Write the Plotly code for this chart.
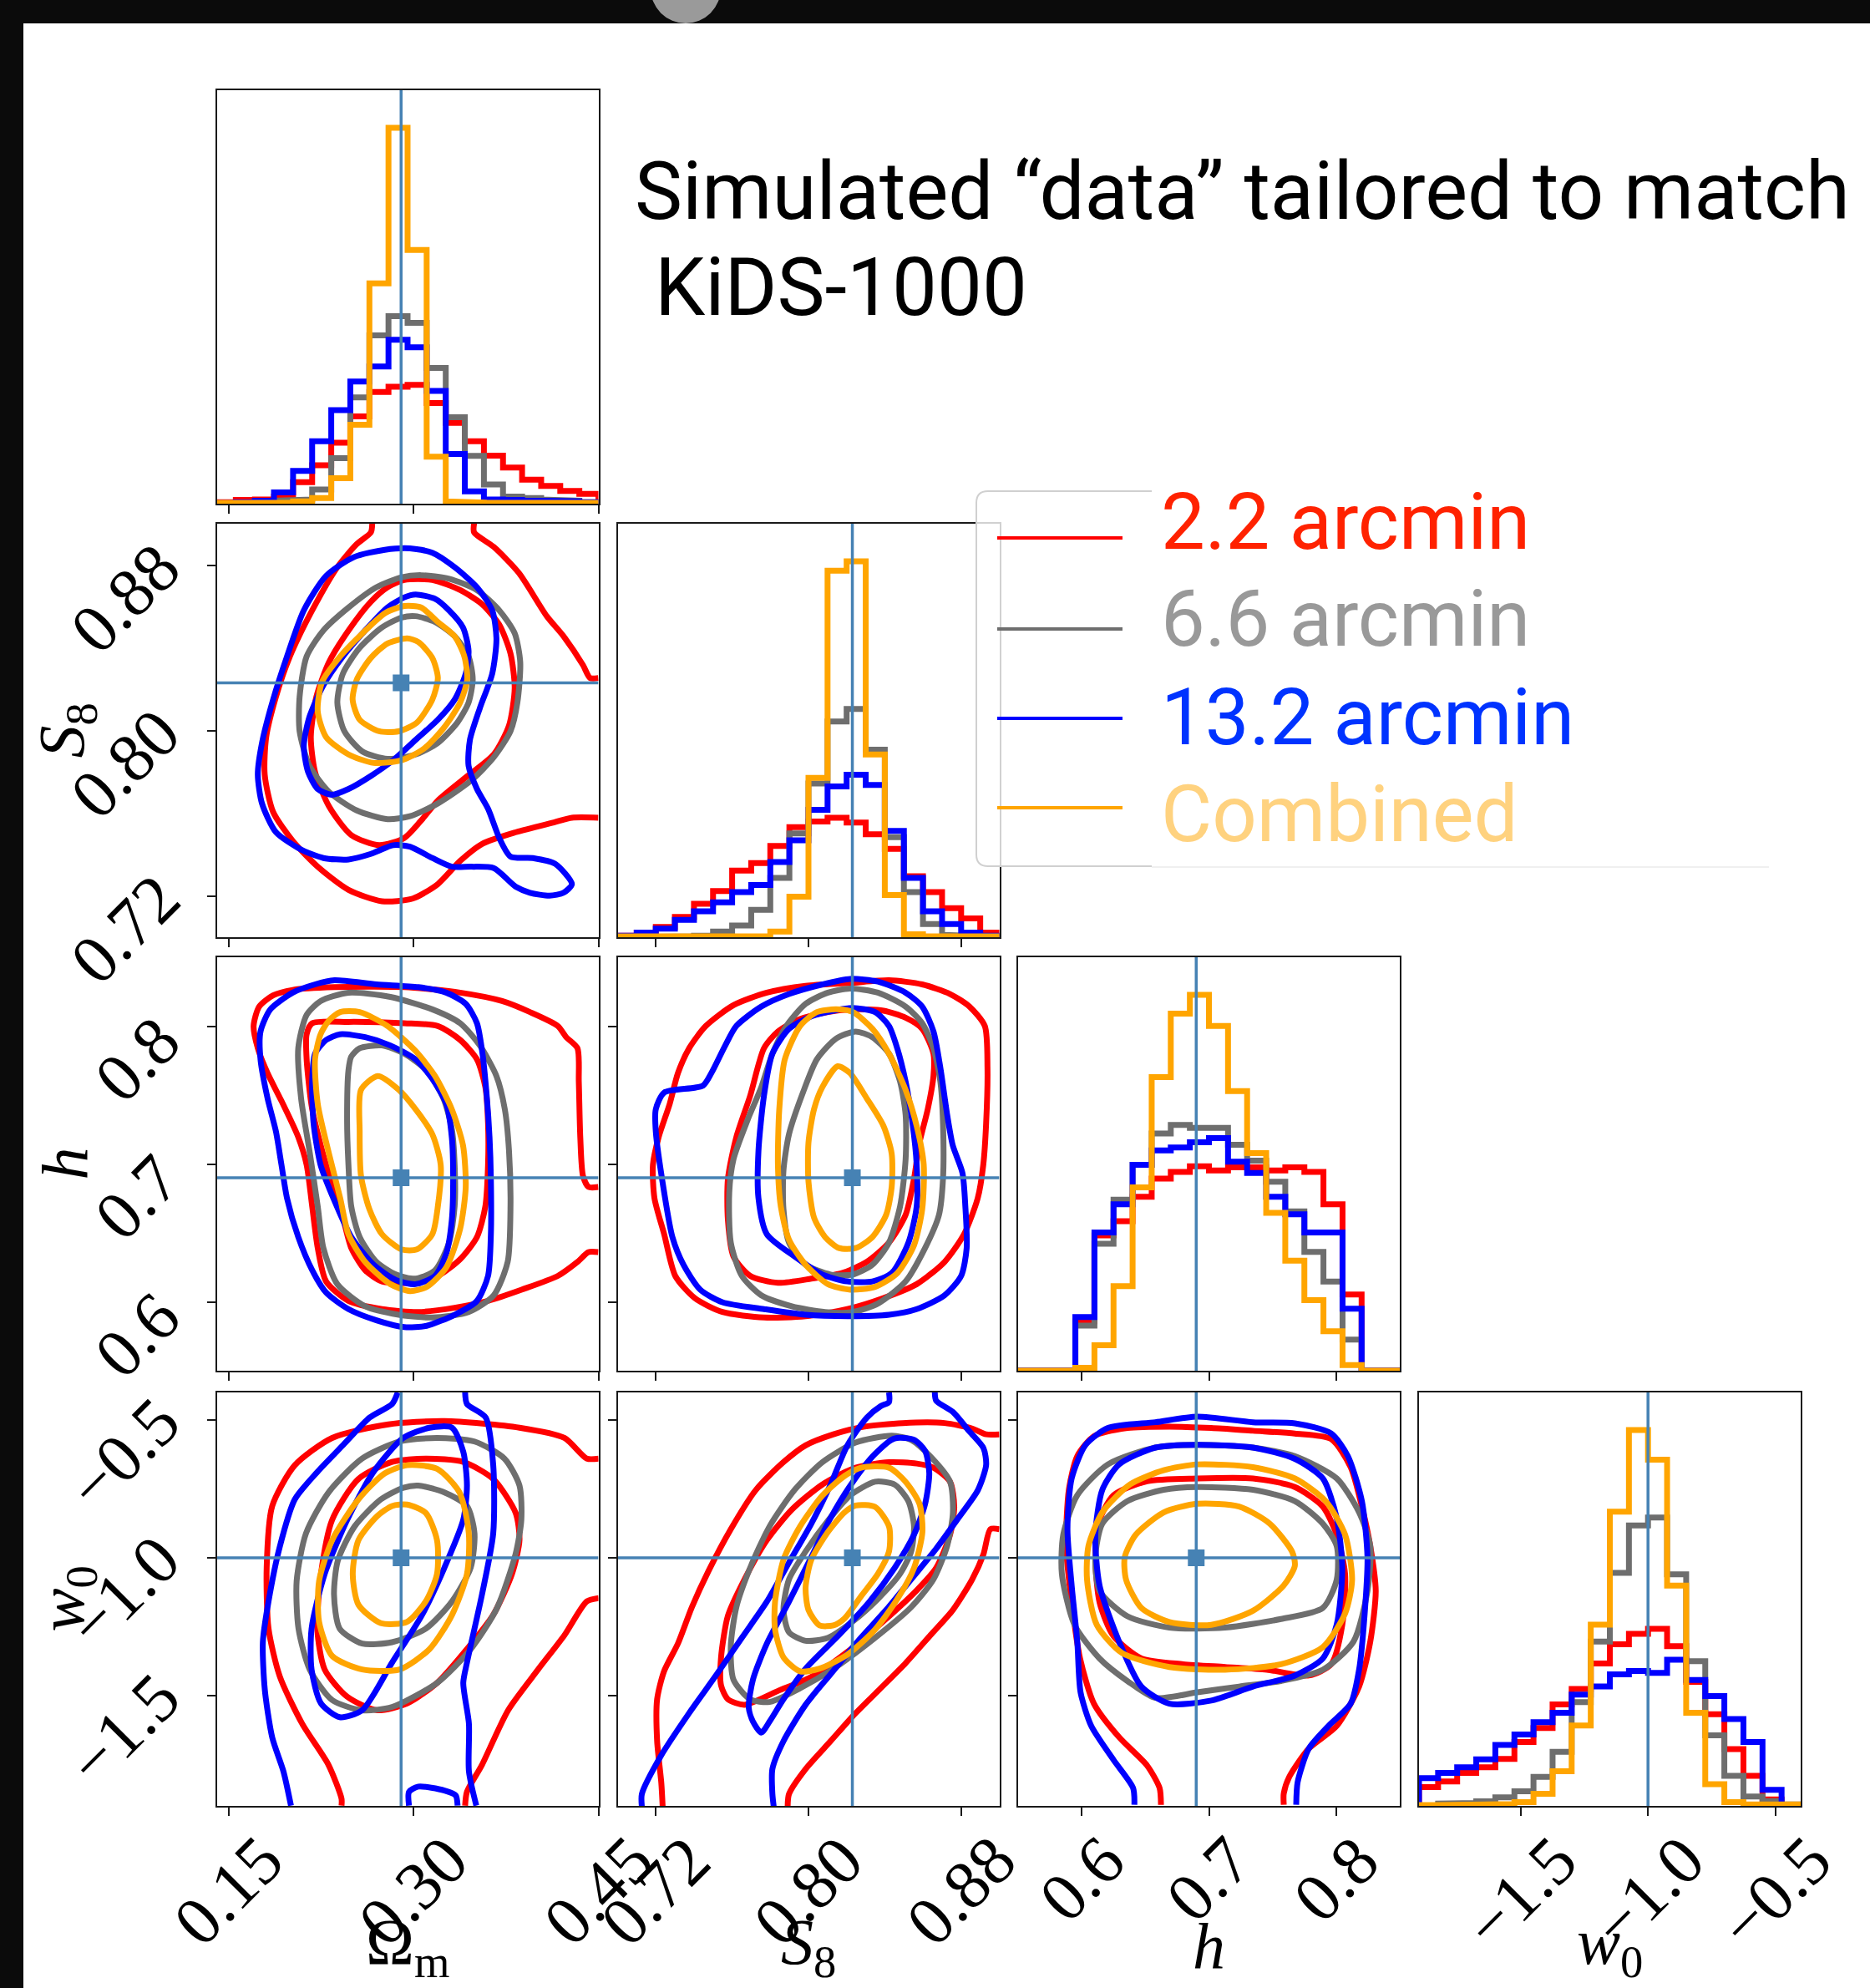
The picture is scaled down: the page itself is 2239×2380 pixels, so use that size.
import plotly.graph_objects as go

W, H = 2239, 2380

# ---------------- axes / parameters ----------------
RANGE_OM = [0.1405, 0.45]
RANGE_S8 = [0.70, 0.90]
RANGE_H = [0.55, 0.85]
RANGE_W0 = [-1.9, -0.4]
TICKS_OM = [0.15, 0.30, 0.45]
TICKS_S8 = [0.72, 0.80, 0.88]
TICKS_H = [0.6, 0.7, 0.8]
TICKS_W0 = [-1.5, -1.0, -0.5]
TICKTEXT_OM = ["0.15", "0.30", "0.45"]
TICKTEXT_S8 = ["0.72", "0.80", "0.88"]
TICKTEXT_H = ["0.6", "0.7", "0.8"]
TICKTEXT_W0 = ["\u22121.5", "\u22121.0", "\u22120.5"]
AXIS_TITLES = ["\u03a9<sub>m</sub>", "<i>S</i><sub>8</sub>", "<i>h</i>", "<i>w</i><sub>0</sub>"]
TRUTH = [0.29, 0.823, 0.69, -1.0]
SERIES = ["2.2 arcmin", "6.6 arcmin", "13.2 arcmin", "Combined"]
N_BINS = 20
TITLE_LINE1 = "Simulated \u201cdata\u201d tailored to match"
TITLE_LINE2 = "KiDS-1000"

# ---------------- 1D histograms (relative heights, 20 bins) ----------------
HIST_OM_RED = [0.004, 0.01, 0.011, 0.019, 0.057, 0.102, 0.162, 0.232, 0.297, 0.311, 0.316, 0.268, 0.215, 0.166, 0.128, 0.096, 0.064, 0.047, 0.034, 0.026]
HIST_OM_GREY = [0.0, 0.0, 0.003, 0.008, 0.011, 0.038, 0.121, 0.283, 0.448, 0.499, 0.481, 0.361, 0.23, 0.127, 0.051, 0.019, 0.015, 0.011, 0.008, 0.004]
HIST_OM_BLUE = [0.0015, 0.004, 0.008, 0.03, 0.087, 0.166, 0.249, 0.325, 0.365, 0.436, 0.416, 0.30, 0.132, 0.033, 0.011, 0.01, 0.008, 0.008, 0.006, 0.004]
HIST_OM_ORANGE = [0.002, 0.002, 0.002, 0.003, 0.006, 0.015, 0.068, 0.21, 0.586, 1.0, 0.675, 0.125, 0.006, 0.003, 0.002, 0.002, 0.002, 0.002, 0.002, 0.002]

HIST_S8_RED = [0.004, 0.012, 0.027, 0.054, 0.089, 0.123, 0.177, 0.197, 0.243, 0.293, 0.308, 0.318, 0.305, 0.274, 0.235, 0.162, 0.12, 0.077, 0.05, 0.012]
HIST_S8_GREY = [0.0, 0.0, 0.0, 0.002, 0.004, 0.015, 0.031, 0.073, 0.158, 0.276, 0.409, 0.574, 0.607, 0.499, 0.266, 0.12, 0.035, 0.006, 0.003, 0.001]
HIST_S8_BLUE = [0.004, 0.012, 0.023, 0.046, 0.069, 0.093, 0.12, 0.139, 0.2, 0.258, 0.339, 0.401, 0.432, 0.405, 0.283, 0.158, 0.069, 0.035, 0.012, 0.004]
HIST_S8_ORANGE = [0.002, 0.002, 0.002, 0.002, 0.002, 0.002, 0.002, 0.002, 0.015, 0.108, 0.424, 0.975, 1.0, 0.486, 0.112, 0.008, 0.002, 0.002, 0.002, 0.002]

HIST_H_RED = [0.0, 0.0, 0.0, 0.131, 0.36, 0.398, 0.463, 0.511, 0.529, 0.544, 0.533, 0.541, 0.541, 0.533, 0.541, 0.529, 0.443, 0.203, 0.0, 0.0]
HIST_H_GREY = [0.0, 0.0, 0.0, 0.12, 0.338, 0.455, 0.548, 0.631, 0.654, 0.646, 0.646, 0.601, 0.559, 0.503, 0.424, 0.316, 0.237, 0.083, 0.0, 0.0]
HIST_H_BLUE = [0.0, 0.0, 0.0, 0.143, 0.368, 0.443, 0.548, 0.586, 0.594, 0.608, 0.619, 0.556, 0.526, 0.463, 0.416, 0.368, 0.368, 0.165, 0.0, 0.0]
HIST_H_ORANGE = [0.0, 0.0, 0.0, 0.008, 0.068, 0.225, 0.488, 0.781, 0.95, 1.0, 0.917, 0.744, 0.579, 0.42, 0.293, 0.188, 0.105, 0.015, 0.0, 0.0]

HIST_W0_RED = [0.05, 0.065, 0.088, 0.103, 0.125, 0.17, 0.207, 0.27, 0.311, 0.379, 0.43, 0.458, 0.471, 0.425, 0.33, 0.244, 0.151, 0.08, 0.017, 0.002]
HIST_W0_GREY = [0.0, 0.006, 0.008, 0.012, 0.023, 0.039, 0.077, 0.144, 0.276, 0.4375, 0.62, 0.746, 0.767, 0.616, 0.385, 0.188, 0.08, 0.025, 0.013, 0.004]
HIST_W0_BLUE = [0.074, 0.088, 0.103, 0.124, 0.162, 0.19, 0.223, 0.248, 0.296, 0.318, 0.35, 0.359, 0.354, 0.389, 0.335, 0.292, 0.231, 0.17, 0.043, 0.002]
HIST_W0_ORANGE = [0.002, 0.002, 0.002, 0.002, 0.005, 0.01, 0.032, 0.092, 0.214, 0.482, 0.783, 1.0, 0.921, 0.586, 0.248, 0.058, 0.01, 0.004, 0.004, 0.004]

# ---------------- 2D contours (inner = _1, outer = _2), data units ----------------
# S8 vs Omega_m
OM_S8_RED_1 = [(0.2926,0.8728),(0.3153,0.8728),(0.3379,0.8679),(0.356,0.8609),(0.3696,0.8512),(0.3787,0.8372),(0.3821,0.8205),(0.3775,0.8024),(0.3651,0.7884),(0.3424,0.7773),(0.3198,0.7661),(0.3062,0.7564),(0.2926,0.748),(0.2723,0.7445),(0.2496,0.7494),(0.2315,0.7633),(0.2202,0.78),(0.2168,0.7968),(0.2213,0.8163),(0.2315,0.833),(0.2474,0.8484),(0.2655,0.8623),(0.279,0.8693)]
OM_S8_RED_2 = [(0.2666,0.9002),(0.2655,0.8958),(0.2541,0.8902),(0.2383,0.879),(0.2179,0.8581),(0.1998,0.8358),(0.1885,0.8163),(0.1806,0.7968),(0.1794,0.7787),(0.1862,0.7606),(0.2021,0.7466),(0.2224,0.7341),(0.2474,0.7229),(0.2745,0.7174),(0.2994,0.7187),(0.3198,0.7257),(0.3379,0.7369),(0.356,0.7452),(0.3832,0.7508),(0.4149,0.7557),(0.4285,0.7578),(0.45,0.7578),None,(0.3492,0.9002),(0.3492,0.8958),(0.3651,0.8888),(0.3855,0.8762),(0.4081,0.8553),(0.4217,0.8456),(0.4375,0.8316),(0.4432,0.8254),(0.45,0.8254)]
OM_S8_GREY_1 = [(0.3017,0.8553),(0.3175,0.8525),(0.3334,0.8456),(0.3447,0.8358),(0.3481,0.8247),(0.3447,0.8135),(0.3356,0.8038),(0.3198,0.794),(0.3017,0.7884),(0.279,0.7863),(0.2587,0.7898),(0.244,0.7996),(0.2383,0.8135),(0.2428,0.8275),(0.2564,0.84),(0.2745,0.8498),(0.2904,0.8546)]
OM_S8_GREY_2 = [(0.3062,0.8751),(0.3289,0.8734),(0.3515,0.8679),(0.3696,0.8581),(0.3821,0.847),(0.3866,0.833),(0.3843,0.8135),(0.3787,0.7996),(0.3651,0.787),(0.347,0.7759),(0.3198,0.7647),(0.2972,0.7585),(0.279,0.7571),(0.2541,0.7613),(0.2315,0.7703),(0.2157,0.7829),(0.2077,0.7996),(0.2077,0.8163),(0.2134,0.8358),(0.227,0.8484),(0.2474,0.8595),(0.27,0.8693),(0.2904,0.8741)]
OM_S8_BLUE_1 = [(0.3017,0.8658),(0.3175,0.8637),(0.3289,0.8581),(0.3402,0.8498),(0.3447,0.8386),(0.3424,0.8275),(0.3334,0.8149),(0.3198,0.8052),(0.3017,0.7954),(0.2836,0.7856),(0.2655,0.778),(0.2474,0.7717),(0.2338,0.7689),(0.2224,0.7717),(0.2145,0.7801),(0.2111,0.7926),(0.2157,0.8066),(0.227,0.8219),(0.2428,0.8358),(0.2609,0.8484),(0.279,0.8595),(0.2926,0.8644)]
OM_S8_BLUE_2 = [(0.2972,0.8881),(0.3153,0.886),(0.3334,0.879),(0.3515,0.8693),(0.3639,0.8581),(0.3673,0.8442),(0.3639,0.8275),(0.3538,0.8107),(0.3458,0.7954),(0.3447,0.7829),(0.3515,0.7717),(0.3606,0.762),(0.3696,0.748),(0.3787,0.739),(0.3968,0.7383),(0.4149,0.7355),(0.4285,0.7257),(0.4217,0.7215),(0.4104,0.7201),(0.3945,0.7215),(0.3832,0.7243),(0.3651,0.7334),(0.347,0.7341),(0.3311,0.7341),(0.3153,0.7383),(0.2972,0.7438),(0.2836,0.7445),(0.2655,0.7403),(0.2474,0.7376),(0.227,0.7383),(0.2089,0.7424),(0.1885,0.7508),(0.1772,0.7647),(0.1738,0.7787),(0.1772,0.794),(0.1862,0.8149),(0.1975,0.8358),(0.2111,0.8581),(0.2292,0.8748),(0.2519,0.8839),(0.2768,0.8874)]
OM_S8_ORANGE_1 = [(0.2949,0.8445),(0.304,0.8428),(0.3153,0.8351),(0.3198,0.8254),(0.3153,0.8149),(0.3028,0.8038),(0.2881,0.7996),(0.2723,0.7996),(0.2564,0.8052),(0.2507,0.8149),(0.2541,0.8247),(0.2655,0.8351),(0.279,0.8421)]
OM_S8_ORANGE_2 = [(0.2926,0.8602),(0.3062,0.8595),(0.3198,0.8525),(0.3334,0.8456),(0.3413,0.8358),(0.3436,0.8247),(0.3379,0.8135),(0.3243,0.801),(0.3085,0.7912),(0.2904,0.7856),(0.2677,0.7843),(0.2474,0.7884),(0.2292,0.7968),(0.2224,0.8093),(0.2258,0.8233),(0.2406,0.8358),(0.2587,0.847),(0.2768,0.8567)]

# h vs Omega_m
OM_H_RED_1 = [(0.2179,0.8021),(0.2473,0.8031),(0.2926,0.8021),(0.3198,0.8001),(0.3379,0.79),(0.3515,0.7759),(0.3583,0.7558),(0.3605,0.7296),(0.3605,0.6994),(0.3583,0.6692),(0.3515,0.647),(0.3379,0.6309),(0.3198,0.6188),(0.2972,0.6138),(0.2745,0.6148),(0.2609,0.6229),(0.2496,0.639),(0.2406,0.6692),(0.2292,0.6994),(0.2179,0.7397),(0.2134,0.7759),(0.2134,0.7941)]
OM_H_RED_2 = [(0.45,0.6833),(0.442,0.6833),(0.4375,0.6913),(0.4353,0.7195),(0.4341,0.7598),(0.433,0.784),(0.4239,0.792),(0.4171,0.8001),(0.3945,0.8102),(0.3719,0.8182),(0.3379,0.8243),(0.2926,0.8283),(0.236,0.8283),(0.2021,0.8263),(0.1862,0.8223),(0.1749,0.8142),(0.1704,0.8001),(0.1738,0.784),(0.1817,0.7659),(0.193,0.7457),(0.2066,0.7195),(0.2134,0.6994),(0.2179,0.6692),(0.2224,0.639),(0.2292,0.6148),(0.2473,0.6007),(0.2745,0.5947),(0.3039,0.5926),(0.3334,0.5957),(0.3605,0.6007),(0.3877,0.6088),(0.4171,0.6188),(0.433,0.6289),(0.442,0.636),(0.45,0.636)]
OM_H_GREY_1 = [(0.2564,0.784),(0.2745,0.786),(0.2926,0.78),(0.3107,0.7679),(0.3243,0.7477),(0.3311,0.7256),(0.3334,0.6994),(0.3334,0.6692),(0.3289,0.643),(0.3175,0.6229),(0.3017,0.6168),(0.2858,0.6198),(0.27,0.6289),(0.2564,0.647),(0.2496,0.6692),(0.2473,0.6994),(0.2462,0.7316),(0.2473,0.7679),(0.2496,0.7779)]
OM_H_GREY_2 = [(0.2473,0.8243),(0.2813,0.8212),(0.3153,0.8122),(0.3379,0.8021),(0.3538,0.786),(0.3673,0.7638),(0.3741,0.7397),(0.3775,0.7095),(0.3787,0.6692),(0.3764,0.6289),(0.3651,0.6047),(0.3447,0.5926),(0.3153,0.5886),(0.2881,0.5906),(0.2609,0.5967),(0.2383,0.6128),(0.227,0.639),(0.2224,0.6692),(0.2157,0.7095),(0.2089,0.7477),(0.2066,0.784),(0.2134,0.8082),(0.2247,0.8182)]
OM_H_BLUE_1 = [(0.2406,0.7941),(0.2609,0.792),(0.2813,0.786),(0.3017,0.7759),(0.3153,0.7618),(0.3266,0.7437),(0.3311,0.7195),(0.3322,0.6893),(0.3311,0.6591),(0.3266,0.6349),(0.3175,0.6188),(0.3017,0.6128),(0.2858,0.6158),(0.2677,0.6269),(0.2496,0.647),(0.236,0.6732),(0.2247,0.6994),(0.219,0.7296),(0.2179,0.7598),(0.2202,0.78),(0.2292,0.79)]
OM_H_BLUE_2 = [(0.236,0.8333),(0.27,0.8303),(0.3039,0.8283),(0.3266,0.8243),(0.3424,0.8162),(0.3515,0.8021),(0.356,0.78),(0.3594,0.7497),(0.3617,0.7195),(0.3628,0.6893),(0.3628,0.649),(0.3605,0.6188),(0.3515,0.6007),(0.3334,0.5906),(0.3107,0.5826),(0.2926,0.5816),(0.27,0.5866),(0.2473,0.5947),(0.2292,0.6067),(0.2179,0.6229),(0.2066,0.647),(0.1975,0.6752),(0.193,0.6994),(0.1885,0.7236),(0.1817,0.7477),(0.176,0.7759),(0.176,0.7961),(0.184,0.8122),(0.2021,0.8243),(0.2202,0.8303)]
OM_H_ORANGE_1 = [(0.2711,0.7638),(0.2881,0.7538),(0.3017,0.7397),(0.3153,0.7216),(0.3221,0.6994),(0.3198,0.6692),(0.3153,0.649),(0.3028,0.638),(0.2904,0.638),(0.2745,0.649),(0.2643,0.6672),(0.2575,0.6913),(0.2564,0.7236),(0.2575,0.7538)]
OM_H_ORANGE_2 = [(0.2406,0.8102),(0.2564,0.8102),(0.279,0.8001),(0.3017,0.782),(0.3175,0.7638),(0.3311,0.7397),(0.3402,0.7135),(0.3424,0.6833),(0.3379,0.6531),(0.3266,0.6249),(0.3107,0.6108),(0.2972,0.6078),(0.2813,0.6128),(0.2609,0.6289),(0.2473,0.649),(0.2406,0.6752),(0.2315,0.7075),(0.2224,0.7437),(0.2202,0.7759),(0.2247,0.7941),(0.2315,0.8041)]

# h vs S8
S8_H_RED_1 = [(0.8233,0.8122),(0.8393,0.8112),(0.8509,0.8061),(0.8596,0.7981),(0.8655,0.78),(0.8655,0.7638),(0.8625,0.7397),(0.8582,0.7155),(0.8553,0.6893),(0.8509,0.6631),(0.8422,0.643),(0.8305,0.6289),(0.8175,0.6208),(0.8015,0.6168),(0.784,0.6138),(0.7695,0.6188),(0.7607,0.6329),(0.7578,0.6591),(0.7578,0.6893),(0.7622,0.7195),(0.7695,0.7497),(0.7767,0.784),(0.784,0.7961),(0.7956,0.8051),(0.8102,0.8102)]
S8_H_RED_2 = [(0.8218,0.8313),(0.8422,0.8333),(0.8596,0.8303),(0.8742,0.8233),(0.8844,0.8142),(0.8924,0.8001),(0.8938,0.7699),(0.8931,0.7296),(0.8916,0.6994),(0.8887,0.6752),(0.8815,0.649),(0.8713,0.6289),(0.8567,0.6128),(0.8393,0.6027),(0.8204,0.5947),(0.7985,0.5896),(0.7767,0.5886),(0.7549,0.5926),(0.7404,0.6027),(0.7302,0.6188),(0.7244,0.649),(0.7193,0.6752),(0.7185,0.6994),(0.7215,0.7195),(0.7273,0.7437),(0.7316,0.7659),(0.7375,0.784),(0.7462,0.8001),(0.7607,0.8152),(0.7782,0.8243),(0.7985,0.8293)]
S8_H_GREY_1 = [(0.8247,0.7961),(0.8335,0.792),(0.8422,0.78),(0.848,0.7598),(0.8509,0.7356),(0.8509,0.7034),(0.848,0.6692),(0.8422,0.643),(0.8335,0.6269),(0.8233,0.6198),(0.8116,0.6198),(0.7985,0.6269),(0.7898,0.643),(0.7869,0.6672),(0.7869,0.6954),(0.7898,0.7216),(0.7971,0.7518),(0.8044,0.7759),(0.8145,0.791)]
S8_H_GREY_2 = [(0.8218,0.8273),(0.8364,0.8243),(0.8509,0.8142),(0.8596,0.8021),(0.8655,0.784),(0.8691,0.7598),(0.8705,0.7296),(0.8705,0.6893),(0.8684,0.6631),(0.8611,0.639),(0.8509,0.6148),(0.8364,0.5987),(0.8233,0.5926),(0.8087,0.5926),(0.7913,0.5967),(0.7753,0.6047),(0.7651,0.6188),(0.7593,0.643),(0.7585,0.6793),(0.7607,0.7034),(0.768,0.7316),(0.7753,0.7558),(0.7811,0.78),(0.7884,0.8001),(0.7985,0.8162),(0.8102,0.8243)]
S8_H_BLUE_1 = [(0.8233,0.8132),(0.8349,0.8102),(0.8422,0.8001),(0.8465,0.784),(0.8509,0.7598),(0.8545,0.7296),(0.8567,0.6994),(0.8567,0.6692),(0.8524,0.643),(0.8436,0.6208),(0.8335,0.6148),(0.8204,0.6148),(0.8073,0.6198),(0.7927,0.6329),(0.7782,0.649),(0.7738,0.6752),(0.7738,0.7095),(0.7767,0.7497),(0.7811,0.78),(0.7898,0.7981),(0.8015,0.8071),(0.8131,0.8112)]
S8_H_BLUE_2 = [(0.8218,0.8343),(0.8364,0.8323),(0.8509,0.8243),(0.8596,0.8142),(0.8655,0.7961),(0.8691,0.7699),(0.8727,0.7356),(0.8756,0.7135),(0.8807,0.6934),(0.8822,0.6692),(0.8829,0.639),(0.88,0.6188),(0.8713,0.6047),(0.8567,0.5947),(0.8422,0.5906),(0.8218,0.5896),(0.7985,0.5906),(0.7767,0.5947),(0.7549,0.5997),(0.7433,0.6088),(0.7345,0.6269),(0.7287,0.647),(0.7244,0.6793),(0.72,0.7236),(0.72,0.7397),(0.7244,0.7518),(0.7447,0.7568),(0.7491,0.7659),(0.7564,0.786),(0.7622,0.8001),(0.7753,0.8142),(0.7898,0.8233),(0.8073,0.8303)]
S8_H_ORANGE_1 = [(0.8153,0.7709),(0.8218,0.7659),(0.8305,0.7477),(0.8393,0.7276),(0.8436,0.7075),(0.8436,0.6833),(0.8407,0.6631),(0.8335,0.647),(0.8247,0.639),(0.816,0.639),(0.8087,0.647),(0.8029,0.6611),(0.80,0.6873),(0.80,0.7155),(0.8029,0.7397),(0.8073,0.7558)]
S8_H_ORANGE_2 = [(0.8145,0.8122),(0.8233,0.8102),(0.8335,0.7981),(0.8422,0.78),(0.8509,0.7538),(0.8567,0.7276),(0.8604,0.6994),(0.8596,0.6672),(0.8553,0.641),(0.8465,0.6208),(0.8349,0.6108),(0.8218,0.6088),(0.8102,0.6128),(0.7985,0.6269),(0.7898,0.645),(0.7855,0.6692),(0.784,0.6994),(0.7847,0.7397),(0.7876,0.7759),(0.7956,0.8001),(0.8044,0.8102)]

# w0 vs Omega_m
OM_W0_RED_1 = [(0.31,-0.64),(0.3404,-0.652),(0.3647,-0.714),(0.3829,-0.837),(0.386,-0.936),(0.3799,-1.059),(0.3647,-1.207),(0.3434,-1.331),(0.3191,-1.454),(0.2949,-1.528),(0.2706,-1.553),(0.2463,-1.504),(0.228,-1.405),(0.222,-1.257),(0.225,-1.059),(0.2341,-0.862),(0.2554,-0.714),(0.2827,-0.652)]
OM_W0_RED_2 = [(0.4503,-0.64),(0.4406,-0.64),(0.4224,-0.565),(0.386,-0.528),(0.3252,-0.504),(0.2797,-0.516),(0.2341,-0.565),(0.2038,-0.664),(0.1855,-0.812),(0.181,-1.035),(0.1825,-1.257),(0.1916,-1.43),(0.2098,-1.602),(0.2311,-1.751),(0.2417,-1.874),(0.2417,-1.899),None,(0.3419,-1.899),(0.3434,-1.849),(0.3556,-1.751),(0.3768,-1.553),(0.4011,-1.405),(0.4224,-1.281),(0.4406,-1.158),(0.4503,-1.146)]
OM_W0_GREY_1 = [(0.304,-0.738),(0.3252,-0.763),(0.3434,-0.812),(0.3495,-0.911),(0.3465,-1.035),(0.3313,-1.158),(0.31,-1.257),(0.2827,-1.306),(0.2584,-1.311),(0.2402,-1.257),(0.2356,-1.133),(0.2387,-1.01),(0.2523,-0.886),(0.2736,-0.788),(0.2918,-0.746)]
OM_W0_GREY_2 = [(0.3191,-0.565),(0.3495,-0.578),(0.3738,-0.64),(0.386,-0.738),(0.3875,-0.862),(0.3829,-0.985),(0.3677,-1.183),(0.3465,-1.331),(0.3191,-1.454),(0.2827,-1.541),(0.2584,-1.553),(0.2341,-1.516),(0.2159,-1.405),(0.2068,-1.257),(0.2053,-1.084),(0.2129,-0.911),(0.2311,-0.763),(0.2584,-0.64),(0.2888,-0.578)]
OM_W0_BLUE_1 = [(0.3313,-0.528),(0.3404,-0.615),(0.3434,-0.738),(0.3404,-0.862),(0.3252,-1.035),(0.307,-1.207),(0.2827,-1.38),(0.2584,-1.553),(0.2402,-1.578),(0.225,-1.528),(0.2174,-1.405),(0.2174,-1.257),(0.228,-1.059),(0.2463,-0.862),(0.2675,-0.689),(0.2918,-0.565),(0.3131,-0.528)]
OM_W0_BLUE_2 = [(0.2873,-0.4),(0.2827,-0.442),(0.2645,-0.491),(0.2432,-0.59),(0.222,-0.689),(0.2038,-0.788),(0.1916,-0.96),(0.1825,-1.158),(0.1779,-1.306),(0.1795,-1.479),(0.1855,-1.652),(0.1946,-1.775),(0.2007,-1.899),None,(0.3419,-0.4),(0.3434,-0.442),(0.3586,-0.491),(0.3647,-0.664),(0.3647,-0.911),(0.3556,-1.133),(0.3434,-1.38),(0.3404,-1.454),(0.345,-1.602),(0.345,-1.775),(0.351,-1.899),None,(0.2964,-1.899),(0.2964,-1.849),(0.304,-1.83),(0.3252,-1.844),(0.3343,-1.862),(0.3358,-1.899)]
OM_W0_ORANGE_1 = [(0.2949,-0.807),(0.31,-0.837),(0.3191,-0.936),(0.3191,-1.059),(0.31,-1.158),(0.2949,-1.232),(0.2736,-1.237),(0.2554,-1.17),(0.2508,-1.059),(0.2554,-0.936),(0.2706,-0.849),(0.2827,-0.812)]
OM_W0_ORANGE_2 = [(0.2949,-0.664),(0.3191,-0.677),(0.3374,-0.763),(0.3449,-0.911),(0.3434,-1.059),(0.3313,-1.207),(0.3131,-1.331),(0.2888,-1.405),(0.2584,-1.405),(0.2341,-1.356),(0.2235,-1.232),(0.2235,-1.084),(0.2341,-0.936),(0.2554,-0.788),(0.2766,-0.694)]

# w0 vs S8
S8_W0_RED_1 = [(0.8422,-0.653),(0.8567,-0.658),(0.8655,-0.673),(0.8742,-0.724),(0.8764,-0.815),(0.8742,-0.916),(0.8669,-1.037),(0.8567,-1.118),(0.8393,-1.23),(0.8204,-1.341),(0.8015,-1.432),(0.784,-1.483),(0.7665,-1.533),(0.7578,-1.513),(0.7542,-1.463),(0.7542,-1.361),(0.7578,-1.21),(0.7665,-1.078),(0.7782,-0.936),(0.7913,-0.825),(0.8073,-0.734),(0.8247,-0.673)]
S8_W0_RED_2 = [(0.7236,-1.903),(0.7229,-1.817),(0.7207,-1.665),(0.7207,-1.513),(0.7243,-1.412),(0.7316,-1.311),(0.7389,-1.179),(0.7476,-1.048),(0.7593,-0.896),(0.7724,-0.754),(0.7869,-0.653),(0.7985,-0.592),(0.8131,-0.552),(0.8276,-0.526),(0.8495,-0.511),(0.8713,-0.511),(0.8858,-0.531),(0.8931,-0.552),(0.9001,-0.552),None,(0.7891,-1.903),(0.7898,-1.857),(0.7985,-1.766),(0.8116,-1.665),(0.8233,-1.574),(0.8364,-1.483),(0.8509,-1.382),(0.864,-1.28),(0.8757,-1.189),(0.8858,-1.078),(0.8917,-0.987),(0.8953,-0.896),(0.9001,-0.896)]
S8_W0_GREY_1 = [(0.8349,-0.724),(0.8451,-0.734),(0.8524,-0.795),(0.8553,-0.886),(0.8538,-0.977),(0.848,-1.058),(0.8364,-1.149),(0.8233,-1.23),(0.8102,-1.29),(0.7985,-1.301),(0.7898,-1.27),(0.7869,-1.189),(0.7898,-1.078),(0.7985,-0.977),(0.8102,-0.865),(0.8218,-0.774)]
S8_W0_GREY_2 = [(0.8437,-0.557),(0.8538,-0.572),(0.864,-0.633),(0.8742,-0.724),(0.8757,-0.835),(0.8727,-0.956),(0.8655,-1.078),(0.8538,-1.179),(0.8349,-1.29),(0.8131,-1.402),(0.7956,-1.473),(0.7796,-1.523),(0.7694,-1.513),(0.7607,-1.442),(0.7593,-1.321),(0.7622,-1.179),(0.7694,-1.037),(0.7796,-0.886),(0.7927,-0.754),(0.8073,-0.653),(0.8247,-0.582)]
S8_W0_BLUE_1 = [(0.8451,-0.567),(0.8553,-0.572),(0.8611,-0.612),(0.8633,-0.693),(0.8611,-0.805),(0.8553,-0.916),(0.8451,-1.037),(0.832,-1.159),(0.816,-1.28),(0.7985,-1.402),(0.7869,-1.513),(0.7796,-1.594),(0.7753,-1.634),(0.7709,-1.594),(0.7687,-1.543),(0.7709,-1.442),(0.7782,-1.311),(0.7898,-1.159),(0.8015,-0.997),(0.8116,-0.855),(0.8233,-0.724),(0.8349,-0.623)]
S8_W0_BLUE_2 = [(0.7127,-1.903),(0.7127,-1.857),(0.7229,-1.716),(0.7374,-1.564),(0.752,-1.422),(0.7651,-1.29),(0.7782,-1.159),(0.7898,-1.017),(0.8015,-0.876),(0.8116,-0.734),(0.8204,-0.592),(0.8306,-0.491),(0.8378,-0.45),(0.8422,-0.435),(0.8422,-0.4),None,(0.8662,-0.4),(0.8669,-0.43),(0.8757,-0.471),(0.8844,-0.542),(0.8917,-0.602),(0.8931,-0.663),(0.8888,-0.754),(0.8786,-0.855),(0.8669,-0.967),(0.8538,-1.078),(0.8407,-1.189),(0.8262,-1.3),(0.8116,-1.422),(0.7985,-1.533),(0.7869,-1.665),(0.7811,-1.766),(0.7811,-1.857),(0.7818,-1.903)]
S8_W0_ORANGE_1 = [(0.8247,-0.81),(0.8349,-0.815),(0.8422,-0.886),(0.8422,-0.977),(0.8364,-1.058),(0.8276,-1.139),(0.8189,-1.22),(0.8131,-1.245),(0.8058,-1.245),(0.80,-1.189),(0.7985,-1.108),(0.8015,-1.007),(0.8102,-0.906),(0.8189,-0.835)]
S8_W0_ORANGE_2 = [(0.8276,-0.673),(0.8422,-0.673),(0.8509,-0.724),(0.8582,-0.805),(0.8597,-0.906),(0.8553,-1.037),(0.8466,-1.149),(0.8349,-1.26),(0.8204,-1.351),(0.8058,-1.402),(0.7956,-1.412),(0.7869,-1.361),(0.7825,-1.26),(0.7825,-1.159),(0.7869,-1.007),(0.7956,-0.886),(0.8073,-0.774),(0.8189,-0.703)]

# w0 vs h
H_W0_RED_1 = [(0.6908,-0.712),(0.7346,-0.712),(0.7675,-0.743),(0.7895,-0.814),(0.8004,-0.916),(0.807,-1.059),(0.8048,-1.243),(0.7961,-1.386),(0.7785,-1.427),(0.7456,-1.406),(0.7127,-1.396),(0.6798,-1.386),(0.6469,-1.365),(0.625,-1.284),(0.614,-1.161),(0.6107,-0.998),(0.6129,-0.876),(0.625,-0.773),(0.6513,-0.722)]
H_W0_RED_2 = [(0.6623,-1.896),(0.6612,-1.835),(0.6513,-1.753),(0.6294,-1.651),(0.6096,-1.529),(0.5987,-1.365),(0.5921,-1.161),(0.5877,-0.957),(0.5899,-0.753),(0.5965,-0.631),(0.6096,-0.559),(0.636,-0.529),(0.6689,-0.524),(0.7018,-0.529),(0.7346,-0.539),(0.7675,-0.549),(0.7961,-0.569),(0.8114,-0.671),(0.8202,-0.814),(0.8268,-0.957),(0.8311,-1.12),(0.8268,-1.304),(0.818,-1.467),(0.8004,-1.61),(0.7785,-1.692),(0.7632,-1.794),(0.7588,-1.855),(0.7588,-1.896)]
H_W0_GREY_1 = [(0.6908,-0.743),(0.7346,-0.753),(0.7675,-0.794),(0.7895,-0.876),(0.8004,-0.957),(0.8004,-1.08),(0.7895,-1.182),(0.7566,-1.222),(0.7127,-1.253),(0.6689,-1.253),(0.636,-1.212),(0.614,-1.12),(0.6107,-0.998),(0.6162,-0.876),(0.636,-0.794),(0.6645,-0.753)]
H_W0_GREY_2 = [(0.6908,-0.59),(0.7346,-0.6),(0.7675,-0.631),(0.8004,-0.712),(0.818,-0.835),(0.8268,-0.957),(0.8246,-1.12),(0.8136,-1.304),(0.7895,-1.406),(0.7566,-1.447),(0.7237,-1.467),(0.6908,-1.488),(0.6579,-1.508),(0.636,-1.447),(0.614,-1.365),(0.5943,-1.243),(0.5844,-1.059),(0.5855,-0.916),(0.5965,-0.773),(0.6206,-0.661),(0.6579,-0.6)]
H_W0_BLUE_1 = [(0.6908,-0.59),(0.7346,-0.6),(0.7675,-0.641),(0.7895,-0.712),(0.8004,-0.855),(0.8048,-1.039),(0.8004,-1.243),(0.7895,-1.365),(0.7675,-1.427),(0.7346,-1.467),(0.7018,-1.518),(0.6689,-1.529),(0.6469,-1.467),(0.6294,-1.304),(0.614,-1.1),(0.6107,-0.916),(0.6162,-0.753),(0.6294,-0.661),(0.6579,-0.6)]
H_W0_BLUE_2 = [(0.6414,-1.896),(0.6404,-1.835),(0.625,-1.733),(0.6075,-1.61),(0.5991,-1.488),(0.5965,-1.304),(0.5921,-1.1),(0.5888,-0.896),(0.5921,-0.712),(0.6031,-0.59),(0.6206,-0.529),(0.6579,-0.508),(0.6908,-0.488),(0.7346,-0.508),(0.7675,-0.512),(0.7961,-0.549),(0.8092,-0.631),(0.8202,-0.794),(0.8246,-0.998),(0.8224,-1.202),(0.818,-1.406),(0.8114,-1.529),(0.7939,-1.61),(0.7785,-1.692),(0.7697,-1.814),(0.7686,-1.896)]
H_W0_ORANGE_1 = [(0.6908,-0.804),(0.7237,-0.814),(0.7478,-0.876),(0.7654,-0.978),(0.7675,-1.029),(0.7588,-1.1),(0.7346,-1.192),(0.7018,-1.243),(0.6689,-1.233),(0.6469,-1.182),(0.6349,-1.08),(0.6338,-0.998),(0.6425,-0.916),(0.6645,-0.835)]
H_W0_ORANGE_2 = [(0.6908,-0.661),(0.7346,-0.671),(0.7675,-0.712),(0.7917,-0.794),(0.807,-0.916),(0.8125,-1.08),(0.807,-1.202),(0.7895,-1.324),(0.7566,-1.386),(0.7127,-1.406),(0.6689,-1.396),(0.6316,-1.345),(0.6118,-1.243),(0.6042,-1.08),(0.6053,-0.957),(0.6162,-0.835),(0.6382,-0.733),(0.6645,-0.682)]

# ---------------- styling / layout constants ----------------
COLORS = ["#ff0000", "#6e6e6e", "#0000ff", "#ffa500"]
LEGEND_TEXT_COLORS = ["#ff2200", "#999999", "#0033ff", "#ffd27f"]
TRUTH_COLOR = "#4682b4"
FRAME = "#1a1a1a"
SERIF = "Liberation Serif"
TICK_FONT = 82
COL_L = [259.5, 739.5, 1219.0, 1699.0]
ROW_T = [108.0, 627.0, 1146.0, 1667.0]
PW, PH = 457.0, 495.0
LW = 7

RANGES = [RANGE_OM, RANGE_S8, RANGE_H, RANGE_W0]
TICKS = [TICKS_OM, TICKS_S8, TICKS_H, TICKS_W0]
TICKTEXT = [TICKTEXT_OM, TICKTEXT_S8, TICKTEXT_H, TICKTEXT_W0]
HISTS = [
    [HIST_OM_RED, HIST_OM_GREY, HIST_OM_BLUE, HIST_OM_ORANGE],
    [HIST_S8_RED, HIST_S8_GREY, HIST_S8_BLUE, HIST_S8_ORANGE],
    [HIST_H_RED, HIST_H_GREY, HIST_H_BLUE, HIST_H_ORANGE],
    [HIST_W0_RED, HIST_W0_GREY, HIST_W0_BLUE, HIST_W0_ORANGE],
]
CONTOURS = {
    (1, 0): [[OM_S8_RED_1, OM_S8_RED_2], [OM_S8_GREY_1, OM_S8_GREY_2], [OM_S8_BLUE_1, OM_S8_BLUE_2], [OM_S8_ORANGE_1, OM_S8_ORANGE_2]],
    (2, 0): [[OM_H_RED_1, OM_H_RED_2], [OM_H_GREY_1, OM_H_GREY_2], [OM_H_BLUE_1, OM_H_BLUE_2], [OM_H_ORANGE_1, OM_H_ORANGE_2]],
    (2, 1): [[S8_H_RED_1, S8_H_RED_2], [S8_H_GREY_1, S8_H_GREY_2], [S8_H_BLUE_1, S8_H_BLUE_2], [S8_H_ORANGE_1, S8_H_ORANGE_2]],
    (3, 0): [[OM_W0_RED_1, OM_W0_RED_2], [OM_W0_GREY_1, OM_W0_GREY_2], [OM_W0_BLUE_1, OM_W0_BLUE_2], [OM_W0_ORANGE_1, OM_W0_ORANGE_2]],
    (3, 1): [[S8_W0_RED_1, S8_W0_RED_2], [S8_W0_GREY_1, S8_W0_GREY_2], [S8_W0_BLUE_1, S8_W0_BLUE_2], [S8_W0_ORANGE_1, S8_W0_ORANGE_2]],
    (3, 2): [[H_W0_RED_1, H_W0_RED_2], [H_W0_GREY_1, H_W0_GREY_2], [H_W0_BLUE_1, H_W0_BLUE_2], [H_W0_ORANGE_1, H_W0_ORANGE_2]],
}
OPEN = {id(OM_S8_RED_2), id(OM_H_RED_2), id(OM_W0_RED_2), id(OM_W0_BLUE_2), id(S8_W0_RED_2),
        id(S8_W0_BLUE_2), id(H_W0_RED_2), id(H_W0_BLUE_2)}


def px_x(p):
    return p / W


def px_y(p):
    return 1 - p / H


def to_xy(pts):
    xs, ys = [], []
    for p in pts:
        if p is None:
            xs.append(None)
            ys.append(None)
        else:
            xs.append(p[0])
            ys.append(p[1])
    if id(pts) not in OPEN:
        xs.append(pts[0][0])
        ys.append(pts[0][1])
    return xs, ys


fig = go.Figure()
layout = dict(width=W, height=H, margin=dict(l=0, r=0, t=0, b=0),
              paper_bgcolor="white", plot_bgcolor="white", showlegend=False)
annotations = []
shapes = []

n = 0
for i in range(4):
    for j in range(i + 1):
        n += 1
        xa = "xaxis" if n == 1 else f"xaxis{n}"
        ya = "yaxis" if n == 1 else f"yaxis{n}"
        xr = "x" if n == 1 else f"x{n}"
        yr = "y" if n == 1 else f"y{n}"
        common = dict(showline=True, mirror=True, linecolor=FRAME, linewidth=2,
                      showgrid=False, zeroline=False, showticklabels=False,
                      ticks="outside", ticklen=10, tickwidth=2, tickcolor=FRAME,
                      fixedrange=True)
        layout[xa] = dict(common, domain=[px_x(COL_L[j]), px_x(COL_L[j] + PW)],
                          range=RANGES[j], tickvals=TICKS[j], anchor=yr)
        if i == j:
            layout[ya] = dict(common, domain=[px_y(ROW_T[i] + PH), px_y(ROW_T[i])],
                              range=[0, 1.1], ticks="", anchor=xr)
        else:
            layout[ya] = dict(common, domain=[px_y(ROW_T[i] + PH), px_y(ROW_T[i])],
                              range=RANGES[i], tickvals=TICKS[i], anchor=xr)

        if i == j:
            lo, hi = RANGES[i]
            edges = [lo + (hi - lo) * k / N_BINS for k in range(N_BINS + 1)]
            for s in range(4):
                vals = HISTS[i][s]
                xs, ys = [edges[0]], [0]
                for k in range(N_BINS):
                    xs += [edges[k], edges[k + 1]]
                    ys += [vals[k], vals[k]]
                xs.append(edges[-1])
                ys.append(0)
                fig.add_trace(go.Scatter(x=xs, y=ys, mode="lines", xaxis=xr, yaxis=yr,
                                         line=dict(color=COLORS[s], width=LW),
                                         hoverinfo="skip"))
            fig.add_trace(go.Scatter(x=[TRUTH[i], TRUTH[i]], y=[0, 1.1], mode="lines",
                                     xaxis=xr, yaxis=yr,
                                     line=dict(color=TRUTH_COLOR, width=3.5), hoverinfo="skip"))
        else:
            for s in range(4):
                for level in CONTOURS[(i, j)][s]:
                    xs, ys = to_xy(level)
                    fig.add_trace(go.Scatter(x=xs, y=ys, mode="lines", xaxis=xr, yaxis=yr,
                                             line=dict(color=COLORS[s], width=LW,
                                                       shape="spline", smoothing=0.7),
                                             hoverinfo="skip"))
            fig.add_trace(go.Scatter(x=[TRUTH[j], TRUTH[j]], y=RANGES[i], mode="lines",
                                     xaxis=xr, yaxis=yr,
                                     line=dict(color=TRUTH_COLOR, width=3.5), hoverinfo="skip"))
            fig.add_trace(go.Scatter(x=RANGES[j], y=[TRUTH[i], TRUTH[i]], mode="lines",
                                     xaxis=xr, yaxis=yr,
                                     line=dict(color=TRUTH_COLOR, width=3.5), hoverinfo="skip"))
            fig.add_trace(go.Scatter(x=[TRUTH[j]], y=[TRUTH[i]], mode="markers",
                                     xaxis=xr, yaxis=yr,
                                     marker=dict(symbol="square", size=20, color=TRUTH_COLOR),
                                     hoverinfo="skip"))

        # tick labels (rotated 45 degrees) on bottom row and left column
        if i == 3:
            for v, t in zip(TICKS[j], TICKTEXT[j]):
                annotations.append(dict(x=v, xref=xr, y=px_y(ROW_T[3] + PH), yref="paper",
                                        text=t, showarrow=False, textangle=-45,
                                        xanchor="center", yanchor="top", yshift=-16,
                                        font=dict(family=SERIF, size=TICK_FONT, color="black")))
        if j == 0 and i > 0:
            for v, t in zip(TICKS[i], TICKTEXT[i]):
                annotations.append(dict(x=px_x(COL_L[0]), xref="paper", y=v, yref=yr,
                                        text=t, showarrow=False, textangle=-45,
                                        xanchor="right", yanchor="middle", xshift=-24, yshift=-40,
                                        font=dict(family=SERIF, size=TICK_FONT, color="black")))

# axis titles
for j in range(4):
    annotations.append(dict(x=px_x(COL_L[j] + PW / 2), y=px_y(2330), xref="paper", yref="paper",
                            text=AXIS_TITLES[j], showarrow=False, xanchor="center", yanchor="middle",
                            font=dict(family=SERIF, size=78, color="black")))
for i in range(1, 4):
    annotations.append(dict(x=px_x(78), y=px_y(ROW_T[i] + PH / 2), xref="paper", yref="paper",
                            text=AXIS_TITLES[i], showarrow=False, textangle=-90,
                            xanchor="center", yanchor="middle",
                            font=dict(family=SERIF, size=78, color="black")))

# title text
annotations.append(dict(x=px_x(758), y=px_y(229), xref="paper", yref="paper", text=TITLE_LINE1,
                        showarrow=False, xanchor="left", yanchor="middle",
                        font=dict(family="Roboto", size=96, color="black")))
annotations.append(dict(x=px_x(782), y=px_y(344), xref="paper", yref="paper", text=TITLE_LINE2,
                        showarrow=False, xanchor="left", yanchor="middle",
                        font=dict(family="Roboto", size=96, color="black")))

# legend: semi-transparent box, white overlay with large coloured labels
box_l, box_r, box_t, box_b, rad = 1169, 1379, 588, 1037, 14
path = (f"M {px_x(box_r)},{px_y(box_t)} L {px_x(box_l + rad)},{px_y(box_t)} "
        f"Q {px_x(box_l)},{px_y(box_t)} {px_x(box_l)},{px_y(box_t + rad)} "
        f"L {px_x(box_l)},{px_y(box_b - rad)} "
        f"Q {px_x(box_l)},{px_y(box_b)} {px_x(box_l + rad)},{px_y(box_b)} "
        f"L {px_x(box_r)},{px_y(box_b)}")
shapes.append(dict(type="path", xref="paper", yref="paper", path=path + " Z",
                   fillcolor="rgba(255,255,255,0.8)", line=dict(width=0), layer="above"))
shapes.append(dict(type="path", xref="paper", yref="paper", path=path,
                   line=dict(color="#d0d0d0", width=2), layer="above"))
shapes.append(dict(type="rect", xref="paper", yref="paper", x0=px_x(box_r), x1=px_x(2125),
                   y0=px_y(box_b), y1=px_y(575), fillcolor="white", line=dict(width=0), layer="above"))
shapes.append(dict(type="line", xref="paper", yref="paper", x0=px_x(box_r), x1=px_x(2118),
                   y0=px_y(box_b + 1), y1=px_y(box_b + 1), line=dict(color="#f0f0f0", width=2),
                   layer="above"))
LEG_LINE_Y = [644, 753, 860, 967]
LEG_TEXT_Y = [625, 741, 859, 975]
for s in range(4):
    shapes.append(dict(type="line", xref="paper", yref="paper", x0=px_x(1194), x1=px_x(1344),
                       y0=px_y(LEG_LINE_Y[s]), y1=px_y(LEG_LINE_Y[s]),
                       line=dict(color=COLORS[s], width=4), layer="above"))
    annotations.append(dict(x=px_x(1388), y=px_y(LEG_TEXT_Y[s]), xref="paper", yref="paper",
                            text=SERIES[s], showarrow=False, xanchor="left", yanchor="middle",
                            font=dict(family="Roboto", size=94, color=LEGEND_TEXT_COLORS[s])))

# screenshot frame (black edges and grey knob)
shapes.append(dict(type="rect", xref="paper", yref="paper", x0=0, x1=px_x(28), y0=0, y1=1,
                   fillcolor="#0b0b0b", line=dict(width=0), layer="above"))
shapes.append(dict(type="rect", xref="paper", yref="paper", x0=0, x1=1, y0=px_y(28), y1=1,
                   fillcolor="#0b0b0b", line=dict(width=0), layer="above"))
shapes.append(dict(type="circle", xref="paper", yref="paper", x0=px_x(779), x1=px_x(863),
                   y0=px_y(28), y1=px_y(-56), fillcolor="#9a9a9a", line=dict(width=0), layer="above"))

layout["annotations"] = annotations
layout["shapes"] = shapes
fig.update_layout(**layout)
fig.write_html("out.html", config={"displayModeBar": False, "staticPlot": True},
               post_script="document.body.style.margin='0px';document.body.style.padding='0px';"
                           "document.documentElement.style.overflow='hidden';")
